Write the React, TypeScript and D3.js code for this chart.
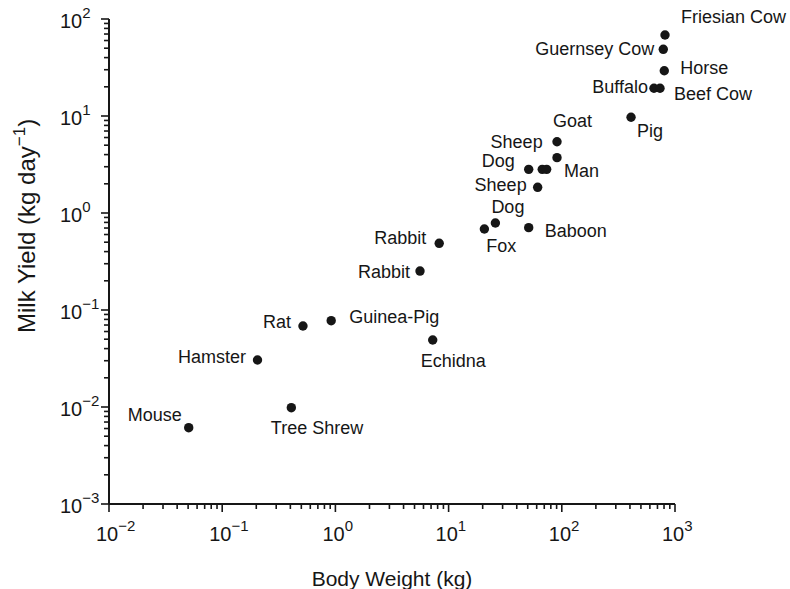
import React from "react";
import * as d3 from "d3";

// Mammals: adult body weight (kg) against daily milk yield (kg/day)
const animals = [
  "Friesian Cow", "Guernsey Cow", "Horse", "Buffalo", "Beef Cow", "Pig",
  "Goat", "Man", "Dog", "", "Sheep", "Sheep", "Dog", "Fox", "Baboon",
  "Rabbit", "Rabbit", "Guinea-Pig", "Rat", "Echidna", "Hamster",
  "Tree Shrew", "Mouse",
];
const bodyWeight = [
  816, 788, 804, 652, 737, 409,
  90.7, 90.7, 51.0, 67.2, 73.5, 61.2, 25.9, 20.7, 51.0,
  8.26, 5.59, 0.918, 0.517, 7.24, 0.205,
  0.408, 0.0506,
];
const milkYield = [
  68.4, 48.7, 29.3, 19.3, 19.3, 9.7,
  5.43, 3.72, 2.82, 2.82, 2.82, 1.84, 0.789, 0.684, 0.706,
  0.487, 0.252, 0.0776, 0.0684, 0.0491, 0.0305,
  0.00984, 0.00612,
];

// Label placement relative to each dot: [dx, dy, anchor]
const labelPlacement: [number, number, string][] = [
  [16, -12, "start"], [-9, 6, "end"], [16, 3, "start"], [-6, 5, "end"],
  [14, 12, "start"], [6, 20, "start"],
  [-4, -15, "start"], [7, 19, "start"], [-14, -2, "end"], [0, 0, "start"],
  [-4, -21, "end"], [-11, 4, "end"], [-4, -10, "start"], [2, 23, "start"],
  [16, 9, "start"],
  [-13, 1, "end"], [-10, 7, "end"], [18, 2, "start"], [-12, 2, "end"],
  [-12, 27, "start"], [-11.5, 3, "end"],
  [-20.5, 26, "start"], [-7, -7, "end"],
];

const xDomain: [number, number] = [1e-2, 1e3];
const yDomain: [number, number] = [1e-3, 1e2];
const xTitle = "Body Weight (kg)";
const yTitleMain = "Milk Yield (kg day";
const yTitleSup = "\u22121";

const FONT = "'Liberation Sans', Arial, Helvetica, sans-serif";
const TICK_FONT = "'Liberation Sans Narrow', 'Arial Narrow', 'Liberation Sans', Arial, sans-serif";
const INK = "#161616";

const plot = { left: 109, right: 675, top: 19, bottom: 504 };

function expLabel(v: number) {
  const e = Math.round(Math.log10(v));
  return e < 0 ? "\u2212" + Math.abs(e) : String(e);
}

export default function App() {
  const x = d3.scaleLog().domain(xDomain).range([plot.left, plot.right]);
  const y = d3.scaleLog().domain(yDomain).range([plot.bottom, plot.top]);

  const isMajor = (v: number) => Math.abs(Math.log10(v) - Math.round(Math.log10(v))) < 1e-9;
  const xTicks = x.ticks();
  const yTicks = y.ticks();

  return (
    <svg
      width={790}
      height={589}
      style={{ position: "absolute", left: 0, top: 0, background: "#fff" }}
      fontFamily={FONT}
    >
      {/* x axis */}
      <line x1={plot.left} x2={plot.right} y1={plot.bottom} y2={plot.bottom} stroke={INK} strokeWidth={2} />
      {xTicks.map((t, i) => (
        <line
          key={"xt" + i}
          x1={x(t)}
          x2={x(t)}
          y1={plot.bottom}
          y2={plot.bottom + (isMajor(t) ? 8 : 5)}
          stroke={INK}
          strokeWidth={1.6}
        />
      ))}
      {xTicks.filter(isMajor).map((t, i) => (
        <text key={"xl" + i} x={x(t) - 13} y={541} fontSize={20} fontFamily={TICK_FONT} fill={INK}>
          10
          <tspan fontSize={15} dy={-10}>{expLabel(t)}</tspan>
        </text>
      ))}

      {/* y axis */}
      <line x1={plot.left} x2={plot.left} y1={plot.top} y2={plot.bottom} stroke={INK} strokeWidth={2} />
      {yTicks.map((t, i) => (
        <line
          key={"yt" + i}
          x1={plot.left - (isMajor(t) ? 8 : 5)}
          x2={plot.left}
          y1={y(t)}
          y2={y(t)}
          stroke={INK}
          strokeWidth={1.6}
        />
      ))}
      {yTicks.filter(isMajor).map((t, i) => (
        <text key={"yl" + i} x={60} y={y(t) + 9} fontSize={20} fontFamily={TICK_FONT} fill={INK}>
          10
          <tspan fontSize={15} dy={-10}>{expLabel(t)}</tspan>
        </text>
      ))}

      {/* axis titles */}
      <text x={(plot.left + plot.right) / 2} y={586} fontSize={21} textAnchor="middle" fill={INK}>
        {xTitle}
      </text>
      <text transform="translate(35,333) rotate(-90)" fontSize={24} fill={INK}>
        {yTitleMain}
        <tspan fontSize={17} dy={-10}>{yTitleSup}</tspan>
        <tspan fontSize={24} dy={10}>)</tspan>
      </text>

      {/* points and their labels */}
      {animals.map((name, i) => {
        const cx = x(bodyWeight[i]);
        const cy = y(milkYield[i]);
        const [dx, dy, anchor] = labelPlacement[i];
        return (
          <g key={"p" + i}>
            <circle cx={cx} cy={cy} r={4.7} fill={INK} />
            {name && (
              <text x={cx + dx} y={cy + dy} fontSize={18} textAnchor={anchor} fill={INK}>
                {name}
              </text>
            )}
          </g>
        );
      })}
    </svg>
  );
}
